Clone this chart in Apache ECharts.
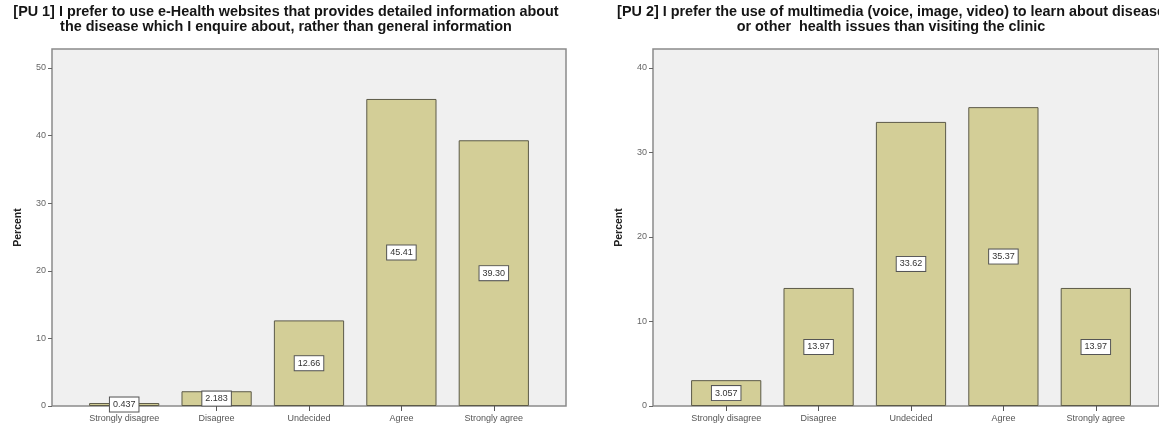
<!DOCTYPE html>
<html>
<head>
<meta charset="utf-8">
<script src="https://cdn.jsdelivr.net/npm/echarts@6/dist/echarts.min.js"></script>
<style>
  html, body { margin: 0; padding: 0; background: #ffffff; }
  #chart { width: 1159px; height: 425px; }
</style>
</head>
<body>
<div id="chart"></div>
<script>
// Response categories shared by both questions
const categories = ['Strongly disagree', 'Disagree', 'Undecided', 'Agree', 'Strongly agree'];

// Percent of respondents per answer
const pu1Percent = [0.437, 2.183, 12.66, 45.41, 39.30];
const pu2Percent = [3.057, 13.97, 33.62, 35.37, 13.97];

// Y-axis tick values
const pu1Ticks = [0, 10, 20, 30, 40, 50];
const pu2Ticks = [0, 10, 20, 30, 40];

const pu1Title = '[PU 1] I prefer to use e-Health websites that provides detailed information about\nthe disease which I enquire about, rather than general information';
const pu2Title = '[PU 2] I prefer the use of multimedia (voice, image, video) to learn about disease\nor other  health issues than visiting the clinic';

const FONT = '"Liberation Sans", Arial, sans-serif';
const BAR_FILL = '#d3ce97';
const BAR_EDGE = '#5c5a48';

function fmt(v) {
  return v < 10 ? v.toFixed(3) : v.toFixed(2);
}

// Each panel: one grid for the framed plot area (carries the y axis),
// and an inset grid that holds the bars and category axis.
const panels = [
  { values: pu1Percent, ticks: pu1Ticks, max: 52.8, left: 52, width: 514, pad: 26, title: pu1Title, titleX: 286 },
  { values: pu2Percent, ticks: pu2Ticks, max: 42.25, left: 653, width: 516, pad: 27, title: pu2Title, titleX: 891 }
];

const option = {
  animation: false,
  textStyle: { fontFamily: FONT },
  title: [],
  grid: [],
  xAxis: [],
  yAxis: [],
  series: []
};

panels.forEach((p, i) => {
  const frameIdx = i * 2;
  const barIdx = i * 2 + 1;

  option.title.push({
    text: p.title,
    left: p.titleX,
    top: 5,
    padding: 0,
    textAlign: 'center',
    textStyle: { fontFamily: FONT, fontSize: 14.4, fontWeight: 'bold', color: '#151515', lineHeight: 14.5 }
  });

  option.grid.push({
    left: p.left, width: p.width, top: 49, bottom: 19,
    show: true, backgroundColor: '#f0f0f0', borderColor: '#8a8a8a', borderWidth: 1.5
  });
  option.grid.push({
    left: p.left + p.pad, width: p.width - 2 * p.pad, top: 49, bottom: 19
  });

  // frame grid axes
  option.xAxis.push({
    gridIndex: frameIdx, type: 'category', data: categories, show: false
  });
  option.yAxis.push({
    gridIndex: frameIdx, type: 'value', min: 0, max: p.max,
    name: 'Percent', nameLocation: 'middle', nameGap: 28,
    nameTextStyle: { fontFamily: FONT, fontSize: 10.5, fontWeight: 'bold', color: '#222' },
    axisLine: { show: false },
    splitLine: { show: false },
    axisTick: { show: true, length: 4, customValues: p.ticks, lineStyle: { color: '#666', width: 1 } },
    axisLabel: { customValues: p.ticks, fontSize: 9, color: '#666', margin: 6, fontFamily: FONT }
  });

  // bar grid axes
  option.xAxis.push({
    gridIndex: barIdx, type: 'category', data: categories,
    axisLine: { show: false },
    axisTick: { show: true, alignWithLabel: true, length: 5, lineStyle: { color: '#555', width: 1 } },
    axisLabel: { fontSize: 9, color: '#555', margin: 8, interval: 0, fontFamily: FONT }
  });
  option.yAxis.push({
    gridIndex: barIdx, type: 'value', min: 0, max: p.max, show: false
  });

  option.series.push({
    type: 'bar',
    xAxisIndex: barIdx, yAxisIndex: barIdx,
    data: p.values,
    barCategoryGap: '24%',
    itemStyle: { color: BAR_FILL, borderColor: BAR_EDGE, borderWidth: 1 },
    label: {
      show: true, position: 'inside',
      formatter: (d) => fmt(d.value),
      fontFamily: FONT, fontSize: 9, color: '#333',
      backgroundColor: '#ffffff', borderColor: '#555', borderWidth: 1,
      padding: [3, 3, 2, 3]
    }
  });
});

const chart = echarts.init(document.getElementById('chart'));
chart.setOption(option);
</script>
</body>
</html>
